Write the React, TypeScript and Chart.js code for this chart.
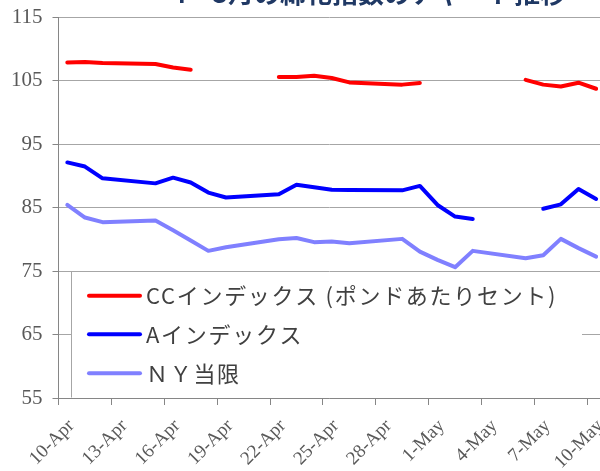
import React, { useEffect, useRef } from 'react';
import { Chart, registerables } from 'chart.js';

Chart.register(...registerables);

// Day index 0 = 10-Apr ... 30 = 10-May
const tickDays = [0, 3, 6, 9, 12, 15, 18, 21, 24, 27, 30];
const tickLabels = ['10-Apr', '13-Apr', '16-Apr', '19-Apr', '22-Apr', '25-Apr', '28-Apr', '1-May', '4-May', '7-May', '10-May'];

const titleText = '4～5月の綿花指数のチャート推移';
const seriesNames = ['CCインデックス (ポンドあたりセント)', 'Aインデックス', 'ＮＹ当限'];
const seriesColors = ['#FF0000', '#0000FF', '#8080FF'];

const ccDays = [0, 1, 2, 5, 6, 7, 8, 12, 13, 14, 15, 16, 19, 20, 21, 26, 27, 28, 29, 30];
const ccValues = [107.85, 107.9, 107.75, 107.6, 107.05, 106.7, null, 105.55, 105.55, 105.75, 105.4, 104.7, 104.35, 104.6, null, 105.1, 104.35, 104.05, 104.65, 103.7];

const aDays = [0, 1, 2, 5, 6, 7, 8, 9, 12, 13, 14, 15, 16, 19, 20, 21, 22, 23, 26, 27, 28, 29, 30];
const aValues = [92.1, 91.45, 89.6, 88.8, 89.7, 88.93, 87.35, 86.57, 87.1, 88.57, 88.2, 87.78, 87.75, 87.7, 88.4, 85.4, 83.57, 83.2, null, 84.8, 85.5, 87.9, 86.35];

const nyDays = [0, 1, 2, 5, 6, 7, 8, 9, 12, 13, 14, 15, 16, 19, 20, 21, 22, 23, 26, 27, 28, 29, 30];
const nyValues = [85.42, 83.42, 82.69, 82.95, 81.4, 79.8, 78.17, 78.75, 80.0, 80.2, 79.54, 79.64, 79.38, 80.06, 78.06, 76.75, 75.6, 78.17, 77.0, 77.49, 80.06, 78.6, 77.27];

const yMin = 55;
const yMax = 115;
const yStep = 10;

function toPoints(days: number[], values: (number | null)[]) {
  return days.map((d, i) => ({ x: d + 0.5, y: values[i] }));
}

const overlayPlugin = {
  id: 'overlay',
  afterDraw(chart: any) {
    const ctx = chart.ctx;
    const area = chart.chartArea;
    const yScale = chart.scales.y;
    ctx.save();
    // title (mostly cut off at the top)
    ctx.font = 'bold 26px "Noto Sans CJK JP"';
    ctx.fillStyle = '#1F3864';
    ctx.textAlign = 'right';
    ctx.textBaseline = 'alphabetic';
    ctx.fillText(titleText, 566, 3);

    // legend box
    const top = yScale.getPixelForValue(75) + 1;
    const bottom = area.bottom - 0.5;
    const left = 71;
    const right = 582;
    ctx.fillStyle = '#FFFFFF';
    ctx.fillRect(left, top, right - left, bottom - top);
    ctx.strokeStyle = '#A6A6A6';
    ctx.lineWidth = 1;
    ctx.beginPath();
    ctx.moveTo(left + 0.5, top - 1);
    ctx.lineTo(left + 0.5, bottom);
    ctx.stroke();

    const rowsY = [295.7, 334.3, 373.3];
    ctx.font = '22px "Noto Sans CJK JP"';
    try { (ctx as any).letterSpacing = '1.7px'; } catch (e) { /* ignore */ }
    ctx.textAlign = 'left';
    ctx.textBaseline = 'middle';
    seriesNames.forEach((name, i) => {
      ctx.strokeStyle = seriesColors[i];
      ctx.lineWidth = 4;
      ctx.lineCap = 'round';
      ctx.beginPath();
      ctx.moveTo(89, rowsY[i]);
      ctx.lineTo(140, rowsY[i]);
      ctx.stroke();
      ctx.fillStyle = '#404040';
      ctx.fillText(name, 146, rowsY[i]);
    });
    try { (ctx as any).letterSpacing = '0px'; } catch (e) { /* ignore */ }
    ctx.restore();
  },
};

export default function App() {
  const canvasRef = useRef<HTMLCanvasElement | null>(null);

  useEffect(() => {
    document.body.style.margin = '0';
    document.body.style.overflow = 'hidden';
    const canvas = canvasRef.current;
    if (!canvas) return;
    const datasets = [
      { label: seriesNames[0], data: toPoints(ccDays, ccValues), borderColor: seriesColors[0] },
      { label: seriesNames[1], data: toPoints(aDays, aValues), borderColor: seriesColors[1] },
      { label: seriesNames[2], data: toPoints(nyDays, nyValues), borderColor: seriesColors[2] },
    ].map((d) => ({
      ...d,
      backgroundColor: d.borderColor,
      borderWidth: 4,
      pointRadius: 0,
      pointHoverRadius: 0,
      tension: 0,
      borderJoinStyle: 'round' as const,
      borderCapStyle: 'round' as const,
      spanGaps: false,
      fill: false,
    }));

    const chart = new Chart(canvas, {
      type: 'line',
      data: { datasets },
      options: {
        responsive: false,
        animation: false,
        devicePixelRatio: 1,
        layout: { padding: { top: 17, right: 0, left: 0, bottom: 0 } },
        plugins: {
          legend: { display: false },
          title: { display: false },
          tooltip: { enabled: false },
        },
        scales: {
          x: {
            type: 'linear',
            min: 0,
            max: 30.72,
            afterBuildTicks: (scale: any) => {
              scale.ticks = tickDays.map((v) => ({ value: v }));
            },
            afterFit: (scale: any) => {
              scale.height = 73;
              scale.paddingLeft = 0;
              scale.paddingRight = 0;
            },
            ticks: {
              autoSkip: false,
              minRotation: 45,
              maxRotation: 45,
              labelOffset: 13,
              padding: 10,
              color: '#595959',
              font: { family: '"Liberation Serif"', size: 19 },
              callback: (value: any) => {
                const idx = tickDays.indexOf(Number(value));
                return idx >= 0 ? tickLabels[idx] : '';
              },
            },
            grid: {
              drawOnChartArea: false,
              drawTicks: true,
              tickLength: 7,
              color: '#868686',
            },
            border: { display: true, color: '#868686', width: 1 },
          },
          y: {
            min: yMin,
            max: yMax,
            afterFit: (scale: any) => {
              scale.width = 58.5;
              scale.paddingTop = 0;
              scale.paddingBottom = 0;
            },
            ticks: {
              stepSize: yStep,
              padding: 10,
              color: '#595959',
              font: { family: '"Liberation Serif"', size: 21 },
            },
            grid: {
              color: '#A6A6A6',
              lineWidth: 1,
              drawTicks: true,
              tickLength: 6,
              tickColor: '#868686',
            },
            border: { display: true, color: '#868686', width: 1 },
          },
        },
      },
      plugins: [overlayPlugin],
    });
    return () => chart.destroy();
  }, []);

  return (
    <div style={{ width: 600, height: 471, position: 'relative', background: '#fff' }}>
      <canvas ref={canvasRef} width={600} height={471} style={{ display: 'block' }} />
    </div>
  );
}
